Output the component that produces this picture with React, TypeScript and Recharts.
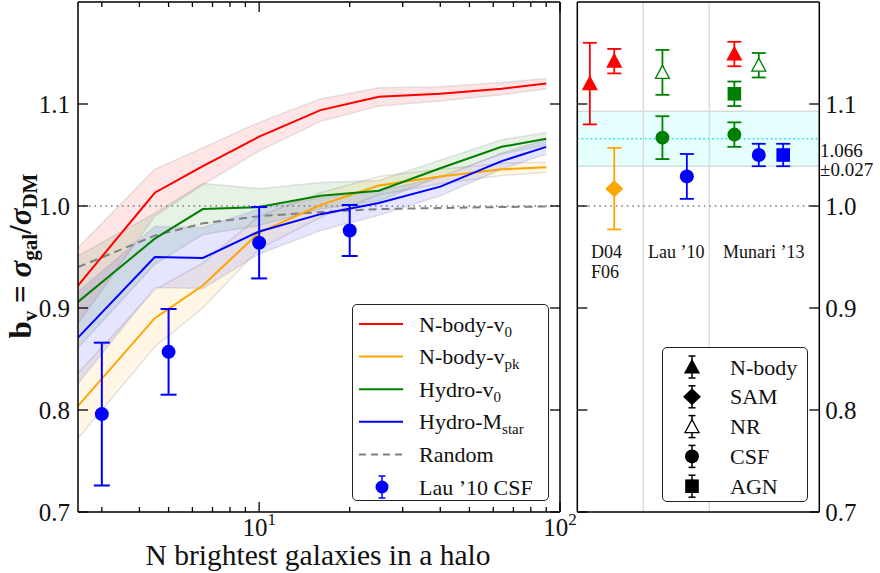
import React from "react";
import {
  ComposedChart,
  Line,
  Area,
  Scatter,
  XAxis,
  YAxis,
  ReferenceLine,
  ReferenceArea,
  ErrorBar,
  Legend,
} from "recharts";

const FONT = '"Liberation Serif", "DejaVu Serif", serif';
const RED = "#ff0000";
const ORANGE = "#ffa500";
const GREEN = "#008000";
const BLUE = "#0000ff";
const GRAY = "#808080";

// ---- left panel: b_v vs N brightest galaxies ----
const nGal = [2.5, 4.5, 6.5, 10, 16, 25, 40, 64, 90];
const nbodyV0 = [0.922, 1.013, 1.039, 1.068, 1.094, 1.107, 1.11, 1.115, 1.12];
const nbodyV0Err = [0.037, 0.023, 0.018, 0.014, 0.011, 0.009, 0.007, 0.006, 0.005];
const nbodyVpk = [0.804, 0.89, 0.922, 0.974, 1.001, 1.02, 1.029, 1.036, 1.038];
const nbodyVpkErr = [0.032, 0.028, 0.022, 0.016, 0.012, 0.009, 0.007, 0.006, 0.005];
const hydroV0 = [0.906, 0.968, 0.997, 0.999, 1.01, 1.015, 1.037, 1.058, 1.066];
const hydroV0Err = [0.045, 0.025, 0.025, 0.018, 0.013, 0.01, 0.008, 0.007, 0.006];
const hydroMstar = [0.871, 0.95, 0.949, 0.975, 0.992, 1.003, 1.019, 1.044, 1.058];
const hydroMstarErr = [0.045, 0.03, 0.03, 0.022, 0.016, 0.012, 0.009, 0.008, 0.007];
const randomBv = [0.94, 0.971, 0.983, 0.99, 0.994, 0.997, 0.998, 0.999, 0.9995];

const lauN = [3, 5, 10, 20];
const lauBv = [0.796, 0.857, 0.964, 0.976];
const lauErr = [0.07, 0.042, 0.035, 0.025];

const xTicks = [3, 4, 5, 6, 7, 8, 9, 10, 20, 30, 40, 50, 60, 70, 80, 90, 100];
const yTicks = [0.7, 0.8, 0.9, 1.0, 1.1];

// ---- right panel: literature values ----
const groupEdges = [1, 2];
const nbodyX = [0.19, 0.56, 2.38];
const nbodyY = [1.12, 1.142, 1.149];
const nbodyE = [0.04, 0.012, 0.012];
const samX = [0.56];
const samY = [1.017];
const samE = [0.04];
const nrX = [1.29, 2.75];
const nrY = [1.131, 1.138];
const nrE = [0.022, 0.012];
const csfGreenX = [1.29, 2.38];
const csfGreenY = [1.067, 1.07];
const csfGreenE = [0.021, 0.012];
const csfBlueX = [1.66, 2.75];
const csfBlueY = [1.029, 1.05];
const csfBlueE = [0.022, 0.011];
const agnGreenX = [2.38];
const agnGreenY = [1.11];
const agnGreenE = [0.012];
const agnBlueX = [3.12];
const agnBlueY = [1.05];
const agnBlueE = [0.011];
const meanBv = 1.066;
const meanErr = 0.027;

const band = (v: number[], e: number[], i: number) => [v[i] - e[i], v[i] + e[i]];

const leftData = nGal.map((x, i) => ({
  x,
  nbV0: nbodyV0[i],
  nbV0Band: band(nbodyV0, nbodyV0Err, i),
  nbVpk: nbodyVpk[i],
  nbVpkBand: band(nbodyVpk, nbodyVpkErr, i),
  hV0: hydroV0[i],
  hV0Band: band(hydroV0, hydroV0Err, i),
  hM: hydroMstar[i],
  hMBand: band(hydroMstar, hydroMstarErr, i),
  rnd: randomBv[i],
}));

const lauData = lauN.map((x, i) => ({ x, y: lauBv[i], err: lauErr[i] }));

const pts = (xs: number[], ys: number[], es: number[]) =>
  xs.map((x, i) => ({ x, y: ys[i], err: es[i] }));

// ---- ticks (drawn inward, matplotlib style) ----
function isDecade(v: number) {
  const e = Math.log10(v);
  return Math.abs(e - Math.round(e)) < 1e-6;
}

function BottomLogTick({ x, y, payload }: any) {
  const v = payload.value;
  const major = isDecade(v);
  return (
    <g>
      <line x1={x} x2={x} y1={y} y2={y - (major ? 10 : 5)} stroke="#000" strokeWidth={1.3} />
      {major && (
        <text x={x} y={y + 24} textAnchor="middle" fontSize={25} fontFamily={FONT} fill="#111">
          10
          <tspan dy={-11} fontSize={17}>
            {Math.round(Math.log10(v))}
          </tspan>
        </text>
      )}
    </g>
  );
}

function TopLogTick({ x, y, payload }: any) {
  const major = isDecade(payload.value);
  return <line x1={x} x2={x} y1={y} y2={y + (major ? 10 : 5)} stroke="#000" strokeWidth={1.3} />;
}

function LeftLabelTick({ x, y, payload }: any) {
  return (
    <g>
      <line x1={x} x2={x + 10} y1={y} y2={y} stroke="#000" strokeWidth={1.3} />
      <text x={x - 8} y={y + 8.5} textAnchor="end" fontSize={25} fontFamily={FONT} fill="#111">
        {Number(payload.value).toFixed(1)}
      </text>
    </g>
  );
}

function LeftPlainTick({ x, y }: any) {
  return <line x1={x} x2={x + 10} y1={y} y2={y} stroke="#000" strokeWidth={1.3} />;
}

function RightPlainTick({ x, y }: any) {
  return <line x1={x} x2={x - 10} y1={y} y2={y} stroke="#000" strokeWidth={1.3} />;
}

function RightLabelTick({ x, y, payload }: any) {
  return (
    <g>
      <line x1={x} x2={x - 10} y1={y} y2={y} stroke="#000" strokeWidth={1.3} />
      <text x={x + 6} y={y + 8.5} textAnchor="start" fontSize={25} fontFamily={FONT} fill="#111">
        {Number(payload.value).toFixed(1)}
      </text>
    </g>
  );
}

// ---- markers ----
function Marker({ kind, cx, cy, color }: { kind: string; cx: number; cy: number; color: string }) {
  if (kind === "tri" || kind === "otri") {
    const s = 7;
    return (
      <polygon
        points={`${cx},${cy - s} ${cx - s},${cy + s * 0.85} ${cx + s},${cy + s * 0.85}`}
        fill={kind === "tri" ? color : "#fff"}
        stroke={color}
        strokeWidth={1.3}
      />
    );
  }
  if (kind === "dia") {
    return (
      <polygon
        points={`${cx},${cy - 8.5} ${cx + 9},${cy} ${cx},${cy + 8.5} ${cx - 9},${cy}`}
        fill={color}
      />
    );
  }
  if (kind === "sq") {
    return <rect x={cx - 6.8} y={cy - 6.8} width={13.6} height={13.6} fill={color} />;
  }
  return <circle cx={cx} cy={cy} r={7} fill={color} />;
}

const shapeOf = (kind: string, color: string) => (p: any) =>
  <Marker kind={kind} cx={p.cx} cy={p.cy} color={color} />;

// ---- legends ----
const leftLegendRows = [
  { name: "N-body-v", sub: "0", color: RED, kind: "line" },
  { name: "N-body-v", sub: "pk", color: ORANGE, kind: "line" },
  { name: "Hydro-v", sub: "0", color: GREEN, kind: "line" },
  { name: "Hydro-M", sub: "star", color: BLUE, kind: "line" },
  { name: "Random", sub: "", color: GRAY, kind: "dash" },
  { name: "Lau \u201910 CSF", sub: "", color: BLUE, kind: "point" },
];

const rightLegendRows = [
  { name: "N-body", kind: "tri" },
  { name: "SAM", kind: "dia" },
  { name: "NR", kind: "otri" },
  { name: "CSF", kind: "circ" },
  { name: "AGN", kind: "sq" },
];

function ErrTick({ cx, cy, h, color }: { cx: number; cy: number; h: number; color: string }) {
  return (
    <g stroke={color} strokeWidth={1.5}>
      <line x1={cx} x2={cx} y1={cy - h} y2={cy + h} />
      <line x1={cx - 3.5} x2={cx + 3.5} y1={cy - h} y2={cy - h} />
      <line x1={cx - 3.5} x2={cx + 3.5} y1={cy + h} y2={cy + h} />
    </g>
  );
}

function LeftLegend() {
  return (
    <div
      style={{
        width: 197,
        height: 197,
        boxSizing: "border-box",
        border: "1.5px solid #222",
        borderRadius: 5,
        background: "#fff",
      }}
    >
      <svg width={194} height={194} style={{ display: "block" }}>
        {leftLegendRows.map((r, i) => {
          const cy = 19 + i * 32.6;
          return (
            <g key={i}>
              {r.kind === "line" && (
                <line x1={6} x2={50} y1={cy} y2={cy} stroke={r.color} strokeWidth={2} />
              )}
              {r.kind === "dash" && (
                <line x1={6} x2={50} y1={cy} y2={cy} stroke={r.color} strokeWidth={2} strokeDasharray="7 5" />
              )}
              {r.kind === "point" && (
                <g>
                  <ErrTick cx={29} cy={cy} h={11} color={r.color} />
                  <circle cx={29} cy={cy} r={6.5} fill={r.color} />
                </g>
              )}
              <text x={66} y={cy + 7.5} fontSize={22} fontFamily={FONT} fill="#111">
                {r.name}
                {r.sub && (
                  <tspan dy={5} fontSize={15}>
                    {r.sub}
                  </tspan>
                )}
              </text>
            </g>
          );
        })}
      </svg>
    </div>
  );
}

function RightLegend() {
  return (
    <div
      style={{
        width: 146,
        height: 155,
        boxSizing: "border-box",
        border: "1.5px solid #222",
        borderRadius: 5,
        background: "#fff",
      }}
    >
      <svg width={143} height={152} style={{ display: "block" }}>
        {rightLegendRows.map((r, i) => {
          const cy = 19 + i * 29.8;
          return (
            <g key={i}>
              <ErrTick cx={29} cy={cy} h={11} color="#000" />
              <Marker kind={r.kind} cx={29} cy={cy} color="#000" />
              <text x={67} y={cy + 7.5} fontSize={22} fontFamily={FONT} fill="#111">
                {r.name}
              </text>
            </g>
          );
        })}
      </svg>
    </div>
  );
}

const axisLine = { stroke: "#000", strokeWidth: 1.5 };

export default function App() {
  return (
    <div
      style={{
        position: "absolute",
        left: 0,
        top: 0,
        width: 880,
        height: 573,
        background: "#fff",
        fontFamily: FONT,
      }}
    >
      {/* left panel */}
      <div style={{ position: "absolute", left: 0, top: 0 }}>
        <ComposedChart
          width={590}
          height={573}
          data={leftData}
          margin={{ top: 1, right: 29, bottom: 60, left: 77 }}
        >
          <XAxis
            dataKey="x"
            type="number"
            scale="log"
            domain={[2.5, 100]}
            allowDataOverflow
            ticks={xTicks}
            interval={0}
            height={1}
            tickSize={0}
            tickMargin={0}
            tick={BottomLogTick}
            tickLine={false}
            axisLine={axisLine}
          />
          <XAxis
            xAxisId="top"
            orientation="top"
            dataKey="x"
            type="number"
            scale="log"
            domain={[2.5, 100]}
            allowDataOverflow
            ticks={xTicks}
            interval={0}
            height={1}
            tickSize={0}
            tickMargin={0}
            tick={TopLogTick}
            tickLine={false}
            axisLine={axisLine}
          />
          <YAxis
            type="number"
            domain={[0.7, 1.2]}
            allowDataOverflow
            ticks={yTicks}
            interval={0}
            width={1}
            tickSize={0}
            tickMargin={0}
            tick={LeftLabelTick}
            tickLine={false}
            axisLine={axisLine}
          />
          <YAxis
            yAxisId="r"
            orientation="right"
            type="number"
            domain={[0.7, 1.2]}
            allowDataOverflow
            ticks={yTicks}
            interval={0}
            width={1}
            tickSize={0}
            tickMargin={0}
            tick={RightPlainTick}
            tickLine={false}
            axisLine={axisLine}
          />
          <ReferenceLine y={1} stroke="#777" strokeWidth={1.5} strokeDasharray="1.5 4" />
          <Area dataKey="nbV0Band" type="linear" fill={RED} fillOpacity={0.1} stroke="#999" strokeOpacity={0.25} strokeWidth={1.5} isAnimationActive={false} />
          <Area dataKey="nbVpkBand" type="linear" fill={ORANGE} fillOpacity={0.1} stroke="#999" strokeOpacity={0.25} strokeWidth={1.5} isAnimationActive={false} />
          <Area dataKey="hV0Band" type="linear" fill={GREEN} fillOpacity={0.1} stroke="#999" strokeOpacity={0.25} strokeWidth={1.5} isAnimationActive={false} />
          <Area dataKey="hMBand" type="linear" fill={BLUE} fillOpacity={0.1} stroke="#999" strokeOpacity={0.25} strokeWidth={1.5} isAnimationActive={false} />
          <Line dataKey="rnd" type="linear" stroke={GRAY} strokeWidth={2} strokeDasharray="8 5" dot={false} isAnimationActive={false} />
          <Line dataKey="nbVpk" type="linear" stroke={ORANGE} strokeWidth={2} dot={false} isAnimationActive={false} />
          <Line dataKey="hM" type="linear" stroke={BLUE} strokeWidth={2} dot={false} isAnimationActive={false} />
          <Line dataKey="hV0" type="linear" stroke={GREEN} strokeWidth={2} dot={false} isAnimationActive={false} />
          <Line dataKey="nbV0" type="linear" stroke={RED} strokeWidth={2} dot={false} isAnimationActive={false} />
          <Scatter data={lauData} dataKey="y" shape={shapeOf("circ", BLUE)} isAnimationActive={false}>
            <ErrorBar dataKey="err" direction="y" width={8} stroke={BLUE} strokeWidth={2} />
          </Scatter>
          <Legend
            layout="vertical"
            align="center"
            verticalAlign="middle"
            content={() => <LeftLegend />}
            wrapperStyle={{ left: 352, top: 304, width: 197, height: 197 }}
          />
        </ComposedChart>
      </div>

      {/* right panel */}
      <div style={{ position: "absolute", left: 560, top: 0 }}>
        <ComposedChart
          width={320}
          height={573}
          margin={{ top: 1, right: 59.7, bottom: 60, left: 16.3 }}
        >
          <XAxis dataKey="x" type="number" domain={[0, 3.667]} allowDataOverflow height={1} tick={false} tickLine={false} axisLine={axisLine} />
          <XAxis xAxisId="top" orientation="top" dataKey="x" type="number" domain={[0, 3.667]} allowDataOverflow height={1} tick={false} tickLine={false} axisLine={axisLine} />
          <YAxis
            type="number"
            domain={[0.7, 1.2]}
            allowDataOverflow
            ticks={yTicks}
            interval={0}
            width={1}
            tickSize={0}
            tickMargin={0}
            tick={LeftPlainTick}
            tickLine={false}
            axisLine={axisLine}
          />
          <YAxis
            yAxisId="r"
            orientation="right"
            type="number"
            domain={[0.7, 1.2]}
            allowDataOverflow
            ticks={yTicks}
            interval={0}
            width={1}
            tickSize={0}
            tickMargin={0}
            tick={RightLabelTick}
            tickLine={false}
            axisLine={axisLine}
          />
          {groupEdges.map((g) => (
            <ReferenceLine key={g} x={g} stroke="#ddd" strokeWidth={1.5} />
          ))}
          <ReferenceArea
            y1={meanBv - meanErr}
            y2={meanBv + meanErr}
            fill="#00ffff"
            fillOpacity={0.1}
            stroke="#bbb"
            strokeOpacity={0.5}
            strokeWidth={1.5}
          />
          <ReferenceLine y={meanBv} stroke="#00e5e5" strokeWidth={1.5} strokeDasharray="1.5 3" />
          <ReferenceLine y={1} stroke="#777" strokeWidth={1.5} strokeDasharray="1.5 4" />
          <Scatter data={pts(nbodyX, nbodyY, nbodyE)} dataKey="y" shape={shapeOf("tri", RED)} isAnimationActive={false}>
            <ErrorBar dataKey="err" direction="y" width={7} stroke={RED} strokeWidth={1.8} />
          </Scatter>
          <Scatter data={pts(samX, samY, samE)} dataKey="y" shape={shapeOf("dia", ORANGE)} isAnimationActive={false}>
            <ErrorBar dataKey="err" direction="y" width={7} stroke={ORANGE} strokeWidth={1.8} />
          </Scatter>
          <Scatter data={pts(nrX, nrY, nrE)} dataKey="y" shape={shapeOf("otri", GREEN)} isAnimationActive={false}>
            <ErrorBar dataKey="err" direction="y" width={7} stroke={GREEN} strokeWidth={1.8} />
          </Scatter>
          <Scatter data={pts(csfGreenX, csfGreenY, csfGreenE)} dataKey="y" shape={shapeOf("circ", GREEN)} isAnimationActive={false}>
            <ErrorBar dataKey="err" direction="y" width={7} stroke={GREEN} strokeWidth={1.8} />
          </Scatter>
          <Scatter data={pts(csfBlueX, csfBlueY, csfBlueE)} dataKey="y" shape={shapeOf("circ", BLUE)} isAnimationActive={false}>
            <ErrorBar dataKey="err" direction="y" width={7} stroke={BLUE} strokeWidth={1.8} />
          </Scatter>
          <Scatter data={pts(agnGreenX, agnGreenY, agnGreenE)} dataKey="y" shape={shapeOf("sq", GREEN)} isAnimationActive={false}>
            <ErrorBar dataKey="err" direction="y" width={7} stroke={GREEN} strokeWidth={1.8} />
          </Scatter>
          <Scatter data={pts(agnBlueX, agnBlueY, agnBlueE)} dataKey="y" shape={shapeOf("sq", BLUE)} isAnimationActive={false}>
            <ErrorBar dataKey="err" direction="y" width={7} stroke={BLUE} strokeWidth={1.8} />
          </Scatter>
          <Legend
            layout="vertical"
            align="center"
            verticalAlign="middle"
            content={() => <RightLegend />}
            wrapperStyle={{ left: 102.3, top: 347, width: 146, height: 155 }}
          />
        </ComposedChart>
      </div>

      {/* axis titles and annotations */}
      <svg
        width={880}
        height={573}
        style={{ position: "absolute", left: 0, top: 0, pointerEvents: "none" }}
        fontFamily={FONT}
        fill="#111"
      >
        <text x={318} y={565} textAnchor="middle" fontSize={29.5}>
          N brightest galaxies in a halo
        </text>
        <text transform="translate(31,256) rotate(-90)" textAnchor="middle" fontSize={31} fontWeight="bold">
          b
          <tspan dy={6} fontSize={21}>v</tspan>
          <tspan dy={-6}> = </tspan>
          <tspan fontStyle="italic">σ</tspan>
          <tspan dy={6} fontSize={21}>gal</tspan>
          <tspan dy={-6}>/</tspan>
          <tspan fontStyle="italic">σ</tspan>
          <tspan dy={6} fontSize={21}>DM</tspan>
        </text>
        <text x={591} y={258} fontSize={18}>D04</text>
        <text x={591} y={278} fontSize={18}>F06</text>
        <text x={648} y={258} fontSize={18}>Lau ’10</text>
        <text x={723} y={258} fontSize={18}>Munari ’13</text>
        <text x={820} y={157} fontSize={19}>{meanBv.toFixed(3)}</text>
        <text x={820} y={176} fontSize={19}>±{meanErr.toFixed(3)}</text>
      </svg>
    </div>
  );
}
